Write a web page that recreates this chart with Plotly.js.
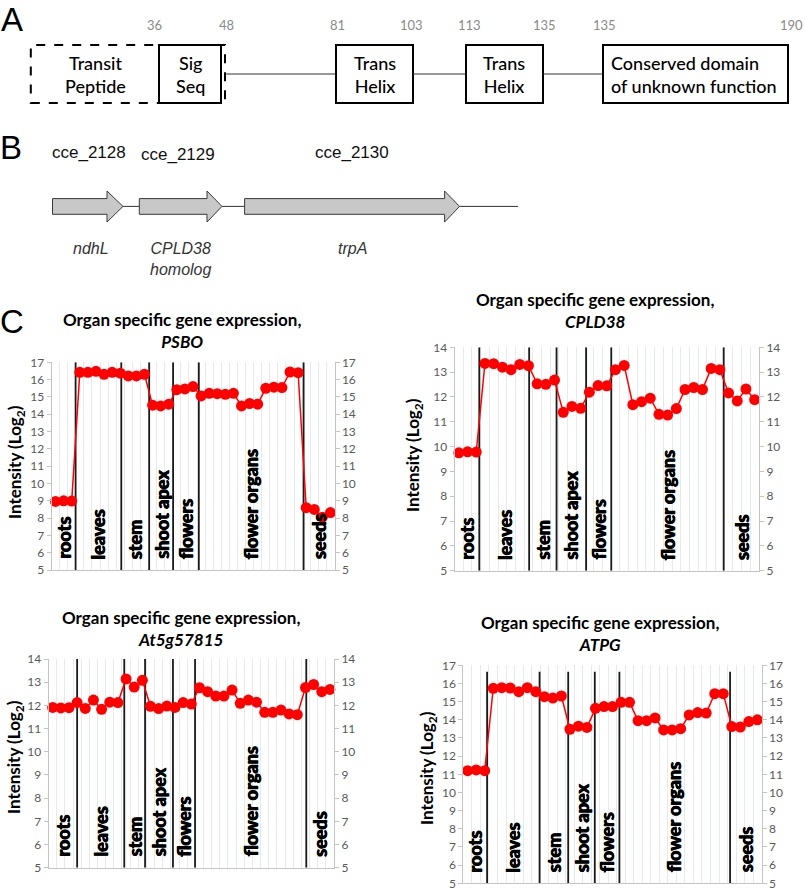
<!DOCTYPE html>
<html><head><meta charset="utf-8">
<script src="https://cdn.plot.ly/plotly-3.0.1.min.js"></script>
<style>html,body{margin:0;padding:0;background:#fff}</style>
</head><body><div id="chart" style="width:805px;height:888px"></div>
<script>
// ---------------- DATA ----------------
const organs = ['roots','leaves','stem','shoot apex','flowers','flower organs','seeds'];
const organCounts = [3,6,3,3,3,13,4];

const psbo = [8.96,9.0,8.98, 16.42,16.42,16.48,16.31,16.42,16.37, 16.21,16.21,16.31, 14.52,14.48,14.58, 15.42,15.46,15.6,
  15.06,15.21,15.19,15.15,15.21,14.48,14.62,14.58,15.5,15.56,15.54,16.44,16.4, 8.6,8.5,8.05,8.32];
const cpld38 = [9.75,9.79,9.78, 13.35,13.34,13.2,13.1,13.31,13.26, 12.53,12.51,12.68, 11.38,11.62,11.54, 12.19,12.46,12.45,
  13.1,13.27,11.69,11.81,11.95,11.3,11.27,11.53,12.3,12.38,12.3,13.15,13.1, 12.16,11.84,12.32,11.89];
const at5g57815 = [11.91,11.89,11.9, 12.12,11.87,12.23,11.83,12.14,12.12, 13.14,12.79,13.08, 11.96,11.86,11.97, 11.91,12.12,12.06,
  12.76,12.59,12.4,12.4,12.66,12.09,12.23,12.14,11.7,11.7,11.8,11.63,11.6, 12.77,12.9,12.59,12.69];
const atpg = [11.2,11.24,11.2, 15.73,15.77,15.75,15.55,15.77,15.55, 15.27,15.2,15.31, 13.48,13.65,13.58, 14.63,14.73,14.73,
  14.96,14.96,13.95,13.95,14.1,13.44,13.44,13.51,14.27,14.4,14.37,15.44,15.44, 13.63,13.6,13.9,14.0];

const geneTitles = ['PSBO','CPLD38','At5g57815','ATPG'];
const yTicksMax = [17,14,14,17];

// organ dividers (in sample-index units) as drawn in each panel
const divPSBO = [2.48,8.13,11.58,14.54,17.72,30.68];
const divCPLD = [2.35,8.08,11.23,14.63,17.52,30.44];
const divAt5 = [3.0,8.78,11.33,14.75,17.46,31.1];
const divATPG = [2.28,8.44,11.8,14.92,17.81,30.8];

// panel A
const domainLabels = ['Transit<br>Peptide','Sig<br>Seq','Trans<br>Helix','Trans<br>Helix','Conserved domain<br>of unknown function'];
const residueLabels = ['36','48','81','103','113','135','135','190'];
// panel B
const geneIds = ['cce_2128','cce_2129','cce_2130'];
const geneNames = ['ndhL','CPLD38<br>homolog','trpA'];

// ---------------- BUILD ----------------
const W = 805, H = 888;
const px = x => x / W, py = y => 1 - y / H;
const samples = [];
organs.forEach((o, gi) => { for (let k = 0; k < organCounts[gi]; k++) samples.push(samples.length); });

const charts = [
  {values: psbo, div: divPSBO, box: [51.5, 334.5, 362.3, 570], divTop: 17, title: [182, 330], ytitle: [16, 462]},
  {values: cpld38, div: divCPLD, box: [454.5, 759, 347.3, 570.7], divTop: 14, title: [595, 311], ytitle: [414, 455]},
  {values: at5g57815, div: divAt5, box: [48.6, 334, 659, 867.7], divTop: 14, title: [181, 628], ytitle: [15, 757]},
  {values: atpg, div: divATPG, box: [463.4, 761.6, 665.3, 883.3], divTop: 16.65, title: [600, 633], ytitle: [428, 768]}
];

const FONT = 'Lato, "Open Sans", sans-serif';
const NARROW = '"Liberation Sans Narrow", "Arial Narrow", "Liberation Sans", sans-serif';
const HEAVY = '0.45px 0 0 #000, -0.45px 0 0 #000';
const data = [];
const layout = {
  width: W, height: H, margin: {l: 0, r: 0, t: 0, b: 0},
  paper_bgcolor: '#fff', plot_bgcolor: 'rgba(0,0,0,0)', showlegend: false,
  font: {family: FONT, color: '#000'},
  shapes: [], annotations: []
};

charts.forEach((c, i) => {
  const xk = 'x' + (i ? i + 1 : ''), yl = 'y' + (2 * i ? 2 * i + 1 : ''), yr = 'y' + (2 * i + 2);
  const xName = 'xaxis' + (i ? i + 1 : ''), ylName = 'yaxis' + (2 * i ? 2 * i + 1 : ''), yrName = 'yaxis' + (2 * i + 2);
  const ymax = yTicksMax[i];
  const n = samples.length;
  const xdom = [px(c.box[0]), px(c.box[1])], ydom = [py(c.box[3]), py(c.box[2])];
  layout[xName] = {domain: xdom, anchor: yl, range: [-0.5, n - 0.5], showticklabels: false, ticks: '',
    tick0: 0.5, dtick: 1, showgrid: true, gridcolor: '#e6e9ee', gridwidth: 1, zeroline: false,
    showline: true, linecolor: '#c4c4c4', linewidth: 1, fixedrange: true};
  const yCommon = {domain: ydom, range: [5, ymax], dtick: 1, tick0: 5, showgrid: false, zeroline: false,
    showline: true, linecolor: '#c4c4c4', linewidth: 1, ticks: 'outside', tickcolor: '#c4c4c4',
    ticklabeloverflow: 'allow',
    tickfont: {family: FONT, size: 12, color: '#595959'}, fixedrange: true};
  layout[ylName] = Object.assign({}, yCommon, {anchor: xk, side: 'left', ticklen: 4});
  layout[yrName] = Object.assign({}, yCommon, {anchor: xk, side: 'right', overlaying: yl, ticklen: 4});

  data.push({x: samples, y: c.values, xaxis: xk, yaxis: yr, mode: 'markers', marker: {opacity: 0}, hoverinfo: 'skip'});
  data.push({x: samples, y: c.values, xaxis: xk, yaxis: yl, mode: 'lines+markers', cliponaxis: false,
    line: {color: '#ff0000', width: 1.5}, marker: {color: '#ff0000', size: 11}});

  // dividers
  c.div.forEach(d => layout.shapes.push({type: 'line', xref: xk, yref: yl, x0: d, x1: d, y0: 5, y1: c.divTop,
    line: {color: '#1a1a1a', width: 1.8}, layer: 'between'}));
  // organ labels (placed between dividers; index -> paper through the axis domain)
  const bounds = [-0.5].concat(c.div, [n - 0.5]);
  const idx2paper = v => xdom[0] + (v + 0.5) / n * (xdom[1] - xdom[0]);
  organs.forEach((o, gi) => layout.annotations.push({xref: 'paper', yref: 'paper',
    x: idx2paper((bounds[gi] + bounds[gi + 1]) / 2), y: ydom[0],
    yshift: 9, xanchor: 'center', yanchor: 'bottom', textangle: -90, showarrow: false, text: o,
    font: {family: FONT, size: 18, color: '#000', weight: 900, shadow: HEAVY}}));
  // titles
  layout.annotations.push({xref: 'paper', yref: 'paper', x: px(c.title[0]), y: py(c.title[1]), xanchor: 'center', yanchor: 'middle',
    showarrow: false, text: 'Organ specific gene expression,<br><i>' + geneTitles[i] + '</i>',
    font: {family: FONT, size: 17, color: '#000', weight: 'bold'}});
  layout.annotations.push({xref: 'paper', yref: 'paper', x: px(c.ytitle[0]), y: py(c.ytitle[1]), xanchor: 'center', yanchor: 'middle',
    showarrow: false, textangle: -90, text: 'Intensity (Log<sub>2</sub>)',
    font: {family: FONT, size: 17, color: '#000', weight: 'bold'}});
});

// ---------- Panel letters ----------
[['A', 12, 20], ['B', 11, 148], ['C', 12, 321]].forEach(l => layout.annotations.push({xref: 'paper', yref: 'paper',
  x: px(l[1]), y: py(l[2]), xanchor: 'center', yanchor: 'middle', showarrow: false, text: l[0],
  font: {family: '"Liberation Sans", Arial, sans-serif', size: 33, color: '#000'}}));

// ---------- Panel A ----------
const rect = (x0, x1, y0, y1, dash) => ({type: 'rect', xref: 'paper', yref: 'paper', x0: px(x0), x1: px(x1), y0: py(y1), y1: py(y0),
  line: {color: '#000', width: 2, dash: dash || 'solid'}, fillcolor: 'rgba(0,0,0,0)'});
const hline = (x0, x1, y, w, col) => ({type: 'line', xref: 'paper', yref: 'paper', x0: px(x0), x1: px(x1), y0: py(y), y1: py(y),
  line: {color: col || '#000', width: w || 1}});
layout.shapes.push(rect(30.8, 225, 45, 103, 'dash'));
layout.shapes.push(rect(159, 221, 45, 103));
layout.shapes.push(hline(225, 336, 74, 1, '#333'));
layout.shapes.push(rect(336, 413, 45, 103));
layout.shapes.push(hline(413, 466, 74, 1, '#333'));
layout.shapes.push(rect(466, 543, 45, 103));
layout.shapes.push(hline(543, 603, 74, 1, '#333'));
layout.shapes.push(rect(603, 788, 45, 103));
const domainX = [95, 190, 374.5, 504.5, 609];
domainLabels.forEach((t, k) => layout.annotations.push({xref: 'paper', yref: 'paper', x: px(domainX[k]), y: py(74),
  xanchor: k === 4 ? 'left' : 'center', yanchor: 'middle', align: k === 4 ? 'left' : 'center', showarrow: false, text: t,
  font: {family: FONT, size: 18, color: '#000', weight: 500}}));
const residueX = [154.5, 226, 337, 411, 469, 544, 604, 791];
residueLabels.forEach((t, k) => layout.annotations.push({xref: 'paper', yref: 'paper', x: px(residueX[k]), y: py(25),
  xanchor: 'center', yanchor: 'middle', showarrow: false, text: t, font: {family: FONT, size: 13, color: '#8a8a8a'}}));

// ---------- Panel B ----------
const arrows = [[52.5, 107, 123], [139.3, 207, 222], [244.6, 444.6, 459.6]];
const ay = {top: 191, bTop: 198.6, mid: 206.4, bBot: 214.3, bot: 222};
arrows.forEach(a => {
  const p = 'M ' + px(a[0]) + ',' + py(ay.bTop) + ' L ' + px(a[1]) + ',' + py(ay.bTop) + ' L ' + px(a[1]) + ',' + py(ay.top) +
    ' L ' + px(a[2]) + ',' + py(ay.mid) + ' L ' + px(a[1]) + ',' + py(ay.bot) + ' L ' + px(a[1]) + ',' + py(ay.bBot) +
    ' L ' + px(a[0]) + ',' + py(ay.bBot) + ' Z';
  layout.shapes.push({type: 'path', xref: 'paper', yref: 'paper', path: p, fillcolor: '#c8c8c8', line: {color: '#3a3a3a', width: 1}});
});
layout.shapes.push(hline(123, 139.3, ay.mid, 1, '#333'));
layout.shapes.push(hline(222, 244.6, ay.mid, 1, '#333'));
layout.shapes.push(hline(459.6, 518, ay.mid, 1, '#333'));
const geneIdX = [89, 178, 352], geneIdY = [153, 155, 153];
geneIds.forEach((g, k) => layout.annotations.push({xref: 'paper', yref: 'paper', x: px(geneIdX[k]), y: py(geneIdY[k]),
  xanchor: 'center', yanchor: 'middle', showarrow: false, text: g, font: {family: NARROW, size: 17, color: '#111'}}));
const geneNameX = [91, 180, 352];
geneNames.forEach((g, k) => layout.annotations.push({xref: 'paper', yref: 'paper', x: px(geneNameX[k]), y: py(238),
  xanchor: 'center', yanchor: 'top', showarrow: false, text: '<i>' + g + '</i>',
  font: {family: NARROW, size: 16, color: '#333'}}));

Plotly.newPlot('chart', data, layout, {staticPlot: true, displayModeBar: false});
</script></body></html>
